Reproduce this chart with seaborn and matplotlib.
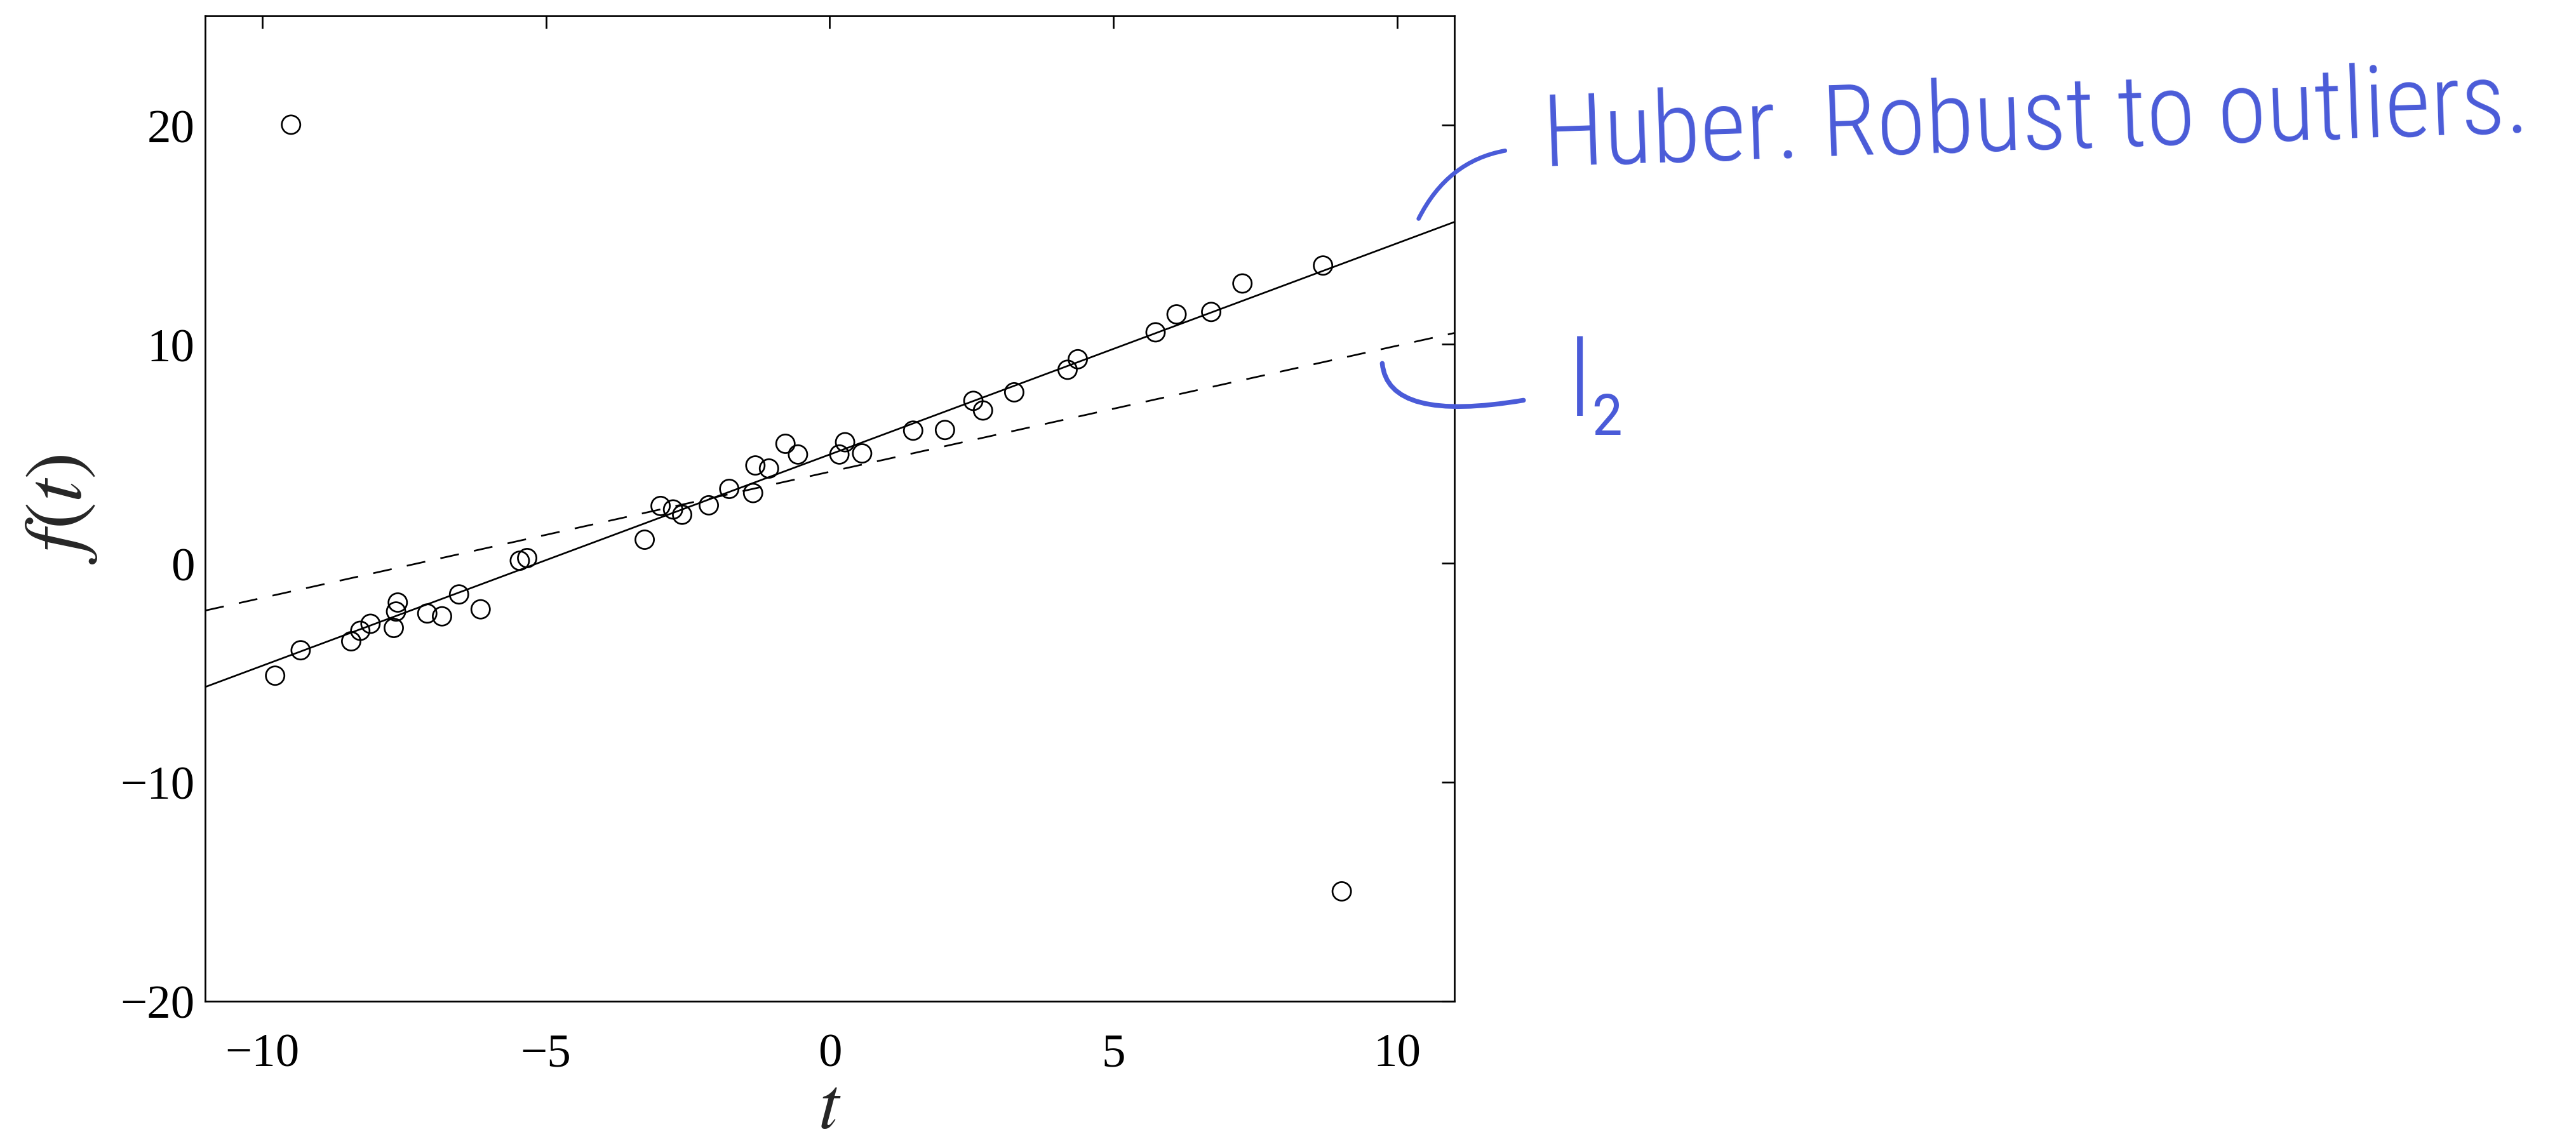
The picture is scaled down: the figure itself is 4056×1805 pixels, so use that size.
import numpy as np
import pandas as pd
import matplotlib
matplotlib.use("Agg")
import matplotlib.pyplot as plt
from matplotlib import font_manager
from matplotlib.patches import FancyArrowPatch
import seaborn as sns

# Observed samples (t, f(t)), including two outliers
t_obs = [-9.77, -9.49, -9.32, -8.43, -8.27, -8.09, -7.68, -7.64, -7.61, -7.09,
         -6.83, -6.53, -6.15, -5.46, -5.33, -3.26, -2.98, -2.76, -2.60, -2.13,
         -1.77, -1.35, -1.31, -1.07, -0.78, -0.56, 0.17, 0.27, 0.57, 1.47,
         2.03, 2.53, 2.70, 3.25, 4.19, 4.37, 5.74, 6.11, 6.72, 7.27,
         8.69, 9.02]
f_obs = [-5.13, 20.03, -3.97, -3.56, -3.08, -2.76, -2.95, -2.20, -1.79, -2.29,
         -2.42, -1.42, -2.10, 0.12, 0.24, 1.08, 2.62, 2.46, 2.22, 2.65,
         3.40, 3.21, 4.47, 4.33, 5.46, 4.97, 4.97, 5.53, 5.02, 6.06,
         6.09, 7.42, 6.98, 7.81, 8.84, 9.32, 10.55, 11.37, 11.48, 12.78,
         13.60, -14.98]

# Fitted affine models f(t) = a + b t
huber_coef = [4.97, 0.965]   # Huber penalty fit
l2_coef = [4.18, 0.576]      # least-squares fit

t_range = [-11, 11]
f_range = [-20, 25]
x_ticks = [-10, -5, 0, 5, 10]
y_ticks = [-20, -10, 0, 10, 20]

huber_label = "Huber. Robust to outliers."
l2_label = "l\u2082"

ink = "#4a5bd8"

sns.set_theme(style="white")
plt.rcParams["font.family"] = ["Liberation Serif", "DejaVu Serif"]
plt.rcParams["mathtext.fontset"] = "stix"

available = {f.name for f in font_manager.fontManager.ttflist}


def first_family(cands):
    for c in cands:
        if c in available:
            return c
    return "DejaVu Sans"


hand_family = first_family(["Liberation Sans Narrow", "Roboto Condensed",
                            "Open Sans Condensed", "DejaVu Sans"])

DPI = 300
fig = plt.figure(figsize=(4056 / DPI, 1806 / DPI), dpi=DPI)
fig.patch.set_facecolor("white")
ax = fig.add_axes([0.0797, 0.1262, 0.4848, 0.8594])
ax.set_facecolor("white")

df = pd.DataFrame({"t": t_obs, "f": f_obs})
sns.scatterplot(data=df, x="t", y="f", ax=ax, marker="o", s=49,
                facecolor="none", edgecolor="black", linewidth=0.65,
                zorder=3, legend=False)

t_line = np.array(t_range, dtype=float)
fit_df = pd.DataFrame({
    "t": t_line,
    "huber": huber_coef[0] + huber_coef[1] * t_line,
    "l2": l2_coef[0] + l2_coef[1] * t_line,
})
sns.lineplot(data=fit_df, x="t", y="huber", ax=ax, color="black",
             linewidth=0.65, zorder=2)
sns.lineplot(data=fit_df, x="t", y="l2", ax=ax, color="black",
             linewidth=0.65, linestyle=(0, (11, 9)), zorder=2)

ax.set_xlim(*t_range)
ax.set_ylim(*f_range)
ax.set_xticks(x_ticks)
ax.set_yticks(y_ticks)
ax.set_xticklabels([f"{v}".replace("-", "\u2212") for v in x_ticks])
ax.set_yticklabels([f"{v}".replace("-", "\u2212") for v in y_ticks])

for side in ["left", "right", "top", "bottom"]:
    ax.spines[side].set_visible(True)
    ax.spines[side].set_color("black")
    ax.spines[side].set_linewidth(0.65)

ax.tick_params(axis="both", which="major", direction="in", length=4.8,
               width=0.65, color="black", labelsize=18, labelcolor="black",
               top=True, right=True)
ax.tick_params(axis="x", pad=12)
ax.tick_params(axis="y", pad=4)
ax.grid(False)

ax.set_xlabel("$t$", fontsize=28, labelpad=0)
ax.set_ylabel("$f(t)$", fontsize=31, labelpad=8)

# Handwritten-style notes
huber_txt = fig.text(2431 / 4056, 1 - 262 / 1806, huber_label, color=ink,
                     family=[hand_family, "DejaVu Sans"], fontsize=34,
                     fontweight="light", rotation=2, rotation_mode="anchor",
                     ha="left", va="baseline")
l2_txt = fig.text(2470 / 4056, 1 - 655 / 1806, l2_label, color=ink,
                  family=[hand_family, "DejaVu Sans"], fontsize=40,
                  fontweight="light", ha="left", va="baseline")

fig.canvas.draw()
renderer = fig.canvas.get_renderer()
w = huber_txt.get_window_extent(renderer).width
huber_txt.set_fontsize(34 * 1556 / w)

fig_tr = fig.transFigure
huber_hook = FancyArrowPatch((2230 / 4056, 1 - 353 / 1806),
                             (2378 / 4056, 1 - 237 / 1806),
                             transform=fig_tr, arrowstyle="-",
                             connectionstyle="angle3,angleA=65,angleB=8",
                             color=ink, linewidth=1.6)
l2_hook = FancyArrowPatch((2176 / 4056, 1 - 565 / 1806),
                          (2407 / 4056, 1 - 630 / 1806),
                          transform=fig_tr, arrowstyle="-",
                          connectionstyle="angle3,angleA=90,angleB=10",
                          color=ink, linewidth=1.8)
fig.patches.extend([huber_hook, l2_hook])

fig.savefig("out.png", dpi=DPI, facecolor="white")
